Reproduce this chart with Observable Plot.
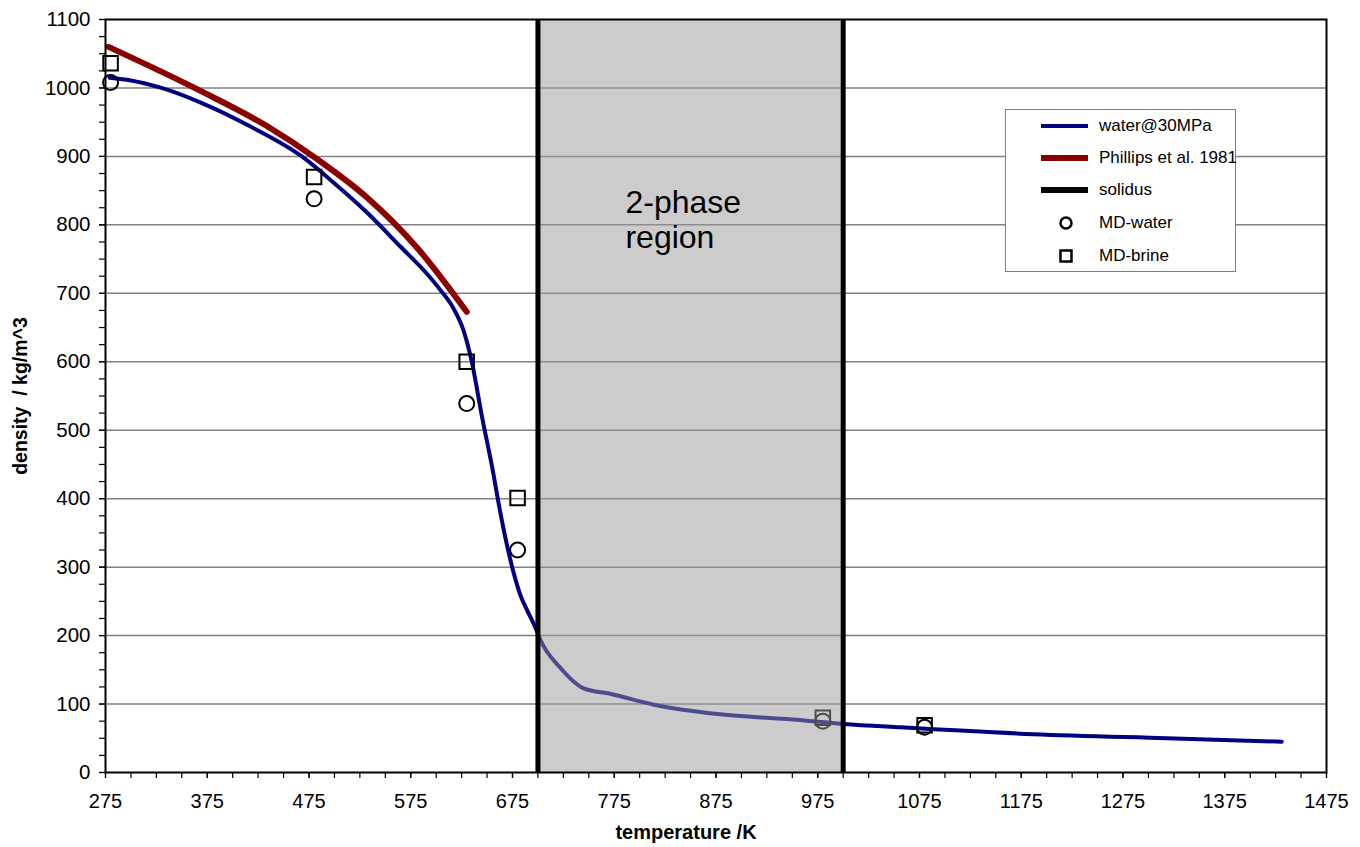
<!DOCTYPE html>
<html>
<head>
<meta charset="utf-8">
<script src="https://cdn.jsdelivr.net/npm/d3@7"></script>
<script src="https://cdn.jsdelivr.net/npm/@observablehq/plot@0.6"></script>
<style>
  html, body { margin: 0; padding: 0; background: #fff; }
  #wrap { position: relative; width: 1360px; height: 847px; font-family: "Liberation Sans", Arial, sans-serif; }
  #legend { position: absolute; left: 1005px; top: 109px; width: 231px; height: 163px; box-sizing: border-box;
            border: 1px solid #808080; background: #fff; }
  .row { position: absolute; left: 0; height: 0; }
  .row svg { position: absolute; left: 30px; top: -10px; }
  .row span { position: absolute; left: 93px; top: -10px; font-size: 17px; white-space: nowrap; color: #000; }
</style>
</head>
<body>
<div id="wrap"></div>
<script>
// ---- data ----
const waterT   = [279, 300, 330, 368, 417, 467, 499, 532, 565, 590, 604, 617, 627, 635, 645, 655, 663, 673, 683, 690, 698, 702, 722, 745, 771, 814, 879, 945, 1000, 1056, 1187, 1318, 1431];
const waterRho = [1015, 1011, 1000, 979, 944, 901, 862, 818, 768, 730, 705, 678, 645, 600, 520, 446, 380, 310, 258, 235, 210, 195, 153, 123, 115, 99, 85, 78, 71, 66, 56, 50, 45];

const phillipsT   = [278, 368, 434, 483, 532, 581, 630];
const phillipsRho = [1060, 996, 944, 896, 840, 767, 673];

const mdT     = [280, 480, 630, 680, 980, 1080];
const mdWater = [1008, 838, 539, 325, 75, 66];
const mdBrine = [1036, 870, 600, 401, 80, 69];

const solidusT = [700, 1000];
const regionLabel = "2-phase\nregion";
const regionLabelAt = {T: 786, rho: 854};

const xMajor = d3.range(275, 1476, 100);
const xMinor = d3.range(275, 1476, 25);
const yMajor = d3.range(0, 1101, 100);
const yMinor = d3.range(0, 1101, 25);

const legendItems = [
  {label: "water@30MPa", kind: "line", color: "#000080", w: 4},
  {label: "Phillips et al. 1981", kind: "line", color: "#8b0000", w: 6},
  {label: "solidus", kind: "line", color: "#000", w: 6},
  {label: "MD-water", kind: "circle"},
  {label: "MD-brine", kind: "square"}
];

// ---- tables ----
const water = waterT.map((t, i) => ({T: t, rho: waterRho[i]}));
const phillips = phillipsT.map((t, i) => ({T: t, rho: phillipsRho[i]}));
const mdW = mdT.map((t, i) => ({T: t, rho: mdWater[i]}));
const mdB = mdT.map((t, i) => ({T: t, rho: mdBrine[i]}));

const font = "Liberation Sans, Arial, sans-serif";

const chart = Plot.plot({
  width: 1360,
  height: 847,
  marginLeft: 105,
  marginRight: 34,
  marginTop: 19,
  marginBottom: 75,
  style: {fontFamily: font, background: "#fff", color: "#000", overflow: "visible"},
  x: {domain: [275, 1475], label: null},
  y: {domain: [0, 1100], label: null},
  marks: [
    Plot.gridY(yMajor.filter(v => v > 0 && v < 1100), {stroke: "#808080", strokeOpacity: 1, strokeWidth: 1.5}),
    Plot.line(water, {x: "T", y: "rho", stroke: "#000080", strokeWidth: 4, curve: "monotone-x"}),
    Plot.line(phillips, {x: "T", y: "rho", stroke: "#8b0000", strokeWidth: 6, curve: "monotone-x"}),
    Plot.dot(mdB, {x: "T", y: "rho", symbol: "square", r: 8.2, stroke: "#000", strokeWidth: 2, fill: "none"}),
    Plot.dot(mdW, {x: "T", y: "rho", symbol: "circle", r: 7.5, stroke: "#000", strokeWidth: 2, fill: "none"}),
    Plot.rect([solidusT], {x1: d => d[0], x2: d => d[1], fill: "#999", fillOpacity: 0.5, ariaLabel: "two-phase"}),
    Plot.ruleX(solidusT, {stroke: "#000", strokeWidth: 5}),
    Plot.frame({stroke: "#000", strokeWidth: 2}),
    Plot.axisX({ticks: xMinor, tickSize: 6, tickFormat: () => "", strokeWidth: 1.2}),
    Plot.axisX({ticks: xMajor, tickSize: 6, tickPadding: 15, fontSize: 20, tickFormat: d => String(d), strokeWidth: 1.2, label: null}),
    Plot.axisY({ticks: yMinor, tickSize: 6, tickFormat: () => "", strokeWidth: 1.2}),
    Plot.axisY({ticks: yMajor, tickSize: 6, tickPadding: 9, fontSize: 20.5, tickFormat: d => String(d), strokeWidth: 1.2, label: null}),
    Plot.text([regionLabel], {x: () => regionLabelAt.T, y: () => regionLabelAt.rho, text: d => d, textAnchor: "start", lineAnchor: "top", fontSize: 32, lineHeight: 1.09, fill: "#000"}),
    Plot.text(["temperature /K"], {frameAnchor: "bottom", dy: 60, dx: -30, textAnchor: "middle", lineAnchor: "middle", fontWeight: "bold", fontSize: 20, fill: "#000"}),
    Plot.text(["density  / kg/m^3"], {frameAnchor: "left", dx: -85, rotate: -90, textAnchor: "middle", lineAnchor: "middle", fontWeight: "bold", fontSize: 19.5, fill: "#000"})
  ]
});

// dotted texture for the 2-phase region
const svgSel = d3.select(chart);
const defs = svgSel.insert("defs", ":first-child");
const pat = defs.append("pattern").attr("id", "dots2ph").attr("width", 3).attr("height", 3).attr("patternUnits", "userSpaceOnUse");
pat.append("rect").attr("width", 3).attr("height", 3).attr("fill", "#9a9a9a").attr("fill-opacity", 0.5);
pat.append("rect").attr("width", 1).attr("height", 1).attr("fill", "#6a6a6a").attr("fill-opacity", 0.45);
pat.append("rect").attr("x", 1.5).attr("y", 1.5).attr("width", 1).attr("height", 1).attr("fill", "#ffffff").attr("fill-opacity", 0.35);
svgSel.selectAll("g[aria-label='two-phase'] rect").attr("fill", "url(#dots2ph)").attr("fill-opacity", 1);

const wrap = document.getElementById("wrap");
wrap.appendChild(chart);

// legend
const legend = document.createElement("div");
legend.id = "legend";
const rowY = [16, 48, 80, 113, 146];
legendItems.forEach((it, i) => {
  const row = document.createElement("div");
  row.className = "row";
  row.style.top = rowY[i] + "px";
  const svg = d3.create("svg").attr("width", 60).attr("height", 20);
  if (it.kind === "line") {
    svg.append("line").attr("x1", 5).attr("x2", 52).attr("y1", 10).attr("y2", 10)
      .attr("stroke", it.color).attr("stroke-width", it.w);
  } else if (it.kind === "circle") {
    svg.append("circle").attr("cx", 30).attr("cy", 10).attr("r", 5.5).attr("fill", "none").attr("stroke", "#000").attr("stroke-width", 2.5);
  } else {
    svg.append("rect").attr("x", 24.5).attr("y", 4.5).attr("width", 11).attr("height", 11).attr("fill", "none").attr("stroke", "#000").attr("stroke-width", 2.5);
  }
  row.appendChild(svg.node());
  const span = document.createElement("span");
  span.textContent = it.label;
  row.appendChild(span);
  legend.appendChild(row);
});
wrap.appendChild(legend);
</script>
</body>
</html>
